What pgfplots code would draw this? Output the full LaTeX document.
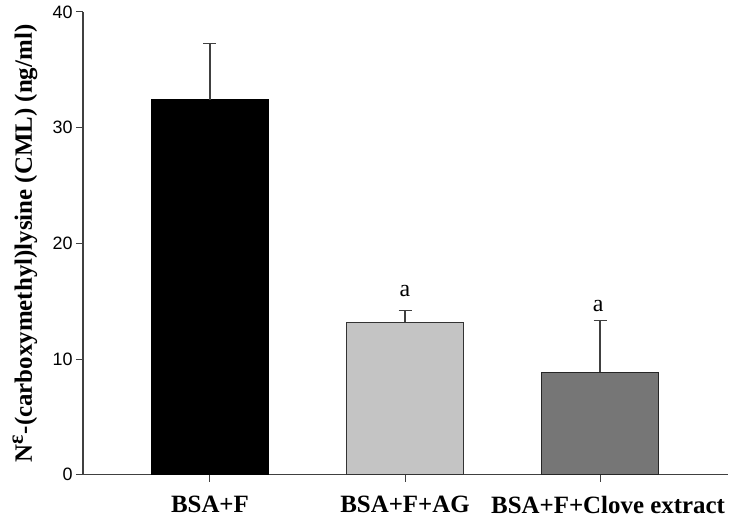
\documentclass[border=0pt]{standalone}
\usepackage{fontspec}
\setmainfont{Liberation Serif}
\newfontfamily\arialf{Liberation Sans}
\usepackage{pgfplots}
\pgfplotsset{compat=1.18}
\definecolor{axgray}{HTML}{404040}
\definecolor{lightbar}{HTML}{C4C4C4}
\definecolor{darkbar}{HTML}{767676}
\begin{document}
\begin{tikzpicture}
\begin{axis}[
  scale only axis, width=645bp, height=462.7bp,
  xmin=-0.651, xmax=2.656, ymin=0, ymax=40,
  separate axis lines,
  axis x line=bottom, axis y line=left,
  axis line style={draw=axgray, line width=1.2bp, -},
  tick style={draw=axgray, line width=1bp},
  tick align=outside,
  major tick length=7bp,
  xtick={0,1,2},
  xticklabels={BSA+F, BSA+F+AG, \hspace*{16bp}BSA+F+Clove extract},
  xticklabel style={font=\bfseries\fontsize{25}{25}\selectfont, inner sep=1bp, yshift=-13bp},
  ytick={0,10,20,30,40},
  yticklabels={0,10,20,30,40},
  yticklabel style={font=\arialf\fontsize{18}{18}\selectfont},
  ylabel={N\textsuperscript{\fontsize{22}{22}\selectfont ε}-(carboxymethyl)lysine (CML) (ng/ml)},
  ylabel style={font=\bfseries\fontsize{25}{25}\selectfont, at={(axis description cs:-0.0899,0.5)}, anchor=center},
  ybar, bar width=0.6, bar shift=0pt,
  clip=false,
  error bars/error bar style={draw=axgray, line width=1.2bp},
  error bars/error mark=-,
  error bars/error mark options={rotate=90, draw=axgray, line width=1.2bp, mark size=6.5bp},
]
\addplot[fill=black, draw=black, line width=1bp,
  error bars/.cd, y dir=plus, y explicit]
  coordinates {(0,32.4) +- (0,4.9)};
\addplot[fill=lightbar, draw=black!80, line width=1bp,
  error bars/.cd, y dir=plus, y explicit]
  coordinates {(1,13.2) +- (0,1.0)};
\addplot[fill=darkbar, draw=black!85, line width=1bp,
  error bars/.cd, y dir=plus, y explicit]
  coordinates {(2,8.85) +- (0,4.45)};
\node[font=\fontsize{24}{24}\selectfont] at (axis cs:1,15.9) {a};
\node[font=\fontsize{24}{24}\selectfont] at (axis cs:1.99,14.6) {a};
\coordinate (sw) at (rel axis cs:0,0);
\coordinate (ne) at (rel axis cs:1,1);
\end{axis}
\path (sw) ++(-83bp,-42.3bp) coordinate (A);
\path (ne) ++(14bp,12bp) coordinate (B);
\pgfresetboundingbox
\useasboundingbox (A) rectangle (B);
\end{tikzpicture}
\end{document}
